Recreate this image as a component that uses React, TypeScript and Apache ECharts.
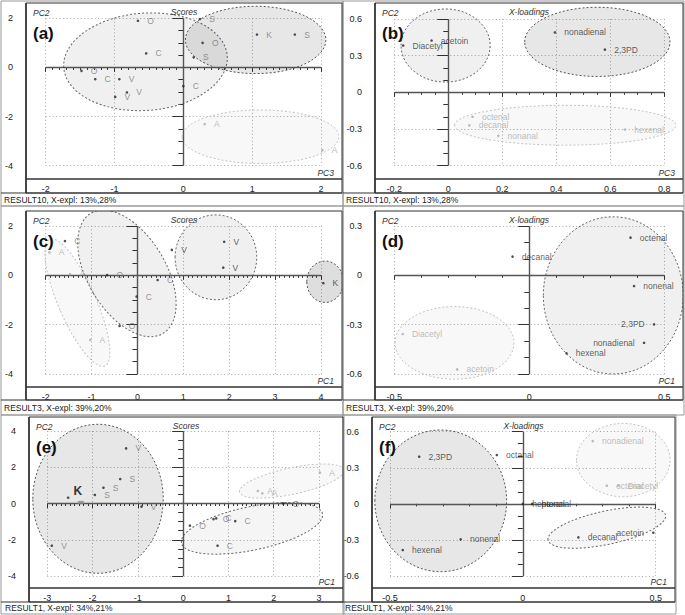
import React, { useEffect, useRef } from 'react';
import * as echarts from 'echarts';

// ---------------- DATA ----------------
// Panel (a): Scores, PC3 (x) vs PC2 (y)
const aMain = [[-0.66, 1.90, 'O'], [-0.54, 0.57, 'C'], [-1.48, -0.14, 'O'], [-1.28, -0.48, 'C'], [-0.93, -0.48, 'V'], [-0.99, -1.20, 'V'], [-0.82, -1.02, 'V'], [0.0, -0.76, 'C'], [0.24, 1.97, 'S'], [0.28, 1.0, 'O'], [0.15, 0.41, 'S'], [1.07, 1.34, 'K'], [1.62, 1.34, 'S']];
const aFaint = [[0.31, -2.31, 'A'], [2.02, -3.37, 'A']];
const aEll = [[-0.55, 0.23, 1.19, 1.98, 4], [1.05, 1.12, 1.02, 1.37, 0], [1.12, -2.82, 1.14, 1.09, 0]];
const aXAxis = [-2, 2, 1];
const aYAxis = [-4, 2, 2];
const aFooter = 'RESULT10, X-expl: 13%,28%';

// Panel (b): X-loadings, PC3 vs PC2
const bDark = [[-0.167, 0.383, 'Diacetyl'], [-0.062, 0.424, 'acetoin'], [0.395, 0.49, 'nonadienal'], [0.58, 0.35, '2,3PD']];
const bFaint = [[0.09, -0.2, 'octenal'], [0.078, -0.27, 'decanal'], [0.185, -0.356, 'nonanal'], [0.654, -0.304, 'hexenal']];
const bEll = [[-0.01, 0.383, 0.165, 0.299, 0], [0.552, 0.413, 0.269, 0.283, 0], [0.433, -0.269, 0.41, 0.163, 0]];
const bXAxis = [-0.2, 0.8, 0.2];
const bYAxis = [-0.6, 0.6, 0.3];
const bFooter = 'RESULT10, X-expl: 13%,28%';

// Panel (c): Scores, PC1 vs PC2
const cDark = [[0.75, 1.03, 'V'], [1.89, 1.36, 'V'], [1.87, 0.31, 'V'], [4.05, -0.32, 'K']];
const cGrey = [[-1.58, 1.39, 'C'], [-0.66, 0.01, 'O'], [0.44, -0.19, 'C'], [-0.02, -0.86, 'C'], [-0.39, -2.05, 'O']];
const cFaint = [[-1.92, 0.93, 'A'], [-1.47, 0.05, 'A'], [-1.03, -2.62, 'A']];
const cEll = [[-1.31, -1.11, 0.41, 2.8, 23.5], [-0.23, 0.08, 0.85, 2.84, 31], [1.71, 0.73, 0.89, 1.72, 0], [4.09, -0.26, 0.4, 0.84, 0]];
const cXAxis = [-2, 4, 1];
const cYAxis = [-4, 2, 2];
const cFooter = 'RESULT3, X-expl: 39%,20%';

// Panel (d): X-loadings, PC1 vs PC2
const dDark = [[0.375, 0.229, 'octenal'], [-0.062, 0.114, 'decanal'], [0.388, -0.065, 'nonenal'], [0.462, -0.298, '2,3PD'], [0.425, -0.41, 'nonadienal'], [0.138, -0.474, 'hexenal']];
const dFaint = [[-0.469, -0.357, 'Diacetyl'], [-0.267, -0.572, 'acetoin']];
const dEll = [[0.311, -0.122, 0.259, 0.478, 0], [-0.277, -0.411, 0.22, 0.221, 0]];
const dXAxis = [-0.5, 0.5, 0.5];
const dYAxis = [-0.6, 0.3, 0.3];
const dFooter = 'RESULT3, X-expl: 39%,20%';

// Panel (e): Scores, PC1 vs PC2
const eGreyL = [[-1.26, 3.04, 'V'], [-1.39, 1.35, 'S'], [-1.76, 0.87, 'S'], [-1.95, 0.47, 'S'], [-0.92, -0.17, 'V'], [-2.9, -2.33, 'V'], [-2.54, 0.32, '']];
const eK = [[-2.26, 0.06, 'K']];
const eGreyR = [[0.15, -1.22, 'O'], [0.67, -0.86, 'O'], [0.73, -0.82, 'C'], [1.15, -0.97, 'C'], [0.76, -2.33, 'C'], [2.21, 0.0, 'O']];
const eFaint = [[1.65, 0.69, 'A'], [1.75, 0.56, 'A'], [3.02, 1.7, 'A']];
const eEll = [[-1.88, 0.26, 1.44, 4.11, 0], [2.4, 1.24, 1.18, 0.73, 12], [1.52, -1.37, 1.59, 1.2, 11.7]];
const eXAxis = [-3, 3, 1];
const eYAxis = [-4, 4, 2];
const eFooter = 'RESULT1, X-expl: 34%,21%';

// Panel (f): X-loadings, PC1 vs PC2
const fDark = [[-0.39, 0.392, '2,3PD'], [-0.098, 0.406, 'octanal'], [0.0, 0.0, 'heptenal'], [0.035, 0.0, 'hexanal'], [-0.234, -0.295, 'nonenal'], [-0.452, -0.384, 'hexenal'], [0.209, -0.279, 'decanal'], [0.491, -0.24, 'acetoin']];
const fFaint = [[0.263, 0.522, 'nonadienal'], [0.316, 0.151, 'octenal'], [0.36, 0.151, 'Diacetyl']];
const fEll = [[-0.309, 0.025, 0.248, 0.589, 0], [0.378, 0.364, 0.176, 0.305, 0], [0.316, -0.198, 0.226, 0.139, 12]];
const fXAxis = [-0.5, 0.5, 0.5];
const fYAxis = [-0.6, 0.6, 0.3];
const fFooter = 'RESULT1, X-expl: 34%,21%';

// ---------------- LAYOUT / STYLE ----------------
const FONT = '"Liberation Sans", Arial, Helvetica, sans-serif';

const toneStyle: any = {
  dark: { dot: '#222', label: '#333' },
  grey: { dot: '#222', label: '#777' },
  faint: { dot: '#aaa', label: '#aaa' },
  k: { dot: '#888', label: '#000' },
};
const ellStyle: any = {
  dark: { fill: 'rgba(0,0,0,0.095)', stroke: '#555' },
  darker: { fill: 'rgba(0,0,0,0.13)', stroke: '#555' },
  mid: { fill: 'rgba(0,0,0,0.06)', stroke: '#666' },
  light: { fill: 'rgba(0,0,0,0.04)', stroke: '#666' },
  faint: { fill: 'rgba(0,0,0,0.028)', stroke: '#c4c4c4' },
};

const panels: any[] = [
  {
    tag: '(a)', title: 'Scores', xName: 'PC3', foot: aFooter, xr: aXAxis, yr: aYAxis, xMinor: 10, yMinor: 4,
    groups: [[aMain, 'grey'], [aFaint, 'faint']], ells: aEll, ellTones: ['mid', 'dark', 'faint'],
    grid: { left: 45.7, top: 18.3, width: 275.3, height: 147.4 },
    frame: { L: 26, R: 342, T: 3, B1: 179, B2: 193, oL: 1, oT: 1, oB: 206, footY: 200, footX: 4 },
  },
  {
    tag: '(b)', title: 'X-loadings', xName: 'PC3', foot: bFooter, xr: bXAxis, yr: bYAxis, xMinor: 4, yMinor: 3,
    groups: [[bDark, 'dark'], [bFaint, 'faint']], ells: bEll, ellTones: ['mid', 'dark', 'faint'],
    grid: { left: 394.3, top: 19, width: 270, height: 146.7 },
    frame: { L: 375, R: 683, T: 3, B1: 179, B2: 193, oL: 343, oT: 1, oB: 206, footY: 200, footX: 346 },
  },
  {
    tag: '(c)', title: 'Scores', xName: 'PC1', foot: cFooter, xr: cXAxis, yr: cYAxis, xMinor: 10, yMinor: 4,
    groups: [[cDark, 'dark'], [cGrey, 'grey'], [cFaint, 'faint']], ells: cEll, ellTones: ['faint', 'mid', 'mid', 'darker'],
    grid: { left: 45.7, top: 226, width: 275.3, height: 148 },
    frame: { L: 26, R: 342, T: 211, B1: 387, B2: 400, oL: 1, oT: 206, oB: 415, footY: 408, footX: 4 },
  },
  {
    tag: '(d)', title: 'X-loadings', xName: 'PC1', foot: dFooter, xr: dXAxis, yr: dYAxis, xMinor: 5, yMinor: 3,
    groups: [[dDark, 'dark'], [dFaint, 'faint']], ells: dEll, ellTones: ['mid', 'faint'],
    grid: { left: 394.3, top: 226, width: 270, height: 148 },
    frame: { L: 375, R: 683, T: 211, B1: 387, B2: 400, oL: 343, oT: 206, oB: 415, footY: 408, footX: 346 },
  },
  {
    tag: '(e)', title: 'Scores', xName: 'PC1', foot: eFooter, xr: eXAxis, yr: eYAxis, xMinor: 10, yMinor: 4,
    groups: [[eGreyL, 'grey'], [eGreyR, 'grey'], [eFaint, 'faint'], [eK, 'k']], ells: eEll, ellTones: ['dark', 'faint', 'light'],
    grid: { left: 47.3, top: 431, width: 271.7, height: 145 },
    frame: { L: 29, R: 343, T: 417, B1: 588, B2: 602, oL: 1, oT: 415, oB: 614, footY: 608, footX: 5 },
  },
  {
    tag: '(f)', title: 'X-loadings', xName: 'PC1', foot: fFooter, xr: fXAxis, yr: fYAxis, xMinor: 5, yMinor: 3,
    groups: [[fDark, 'dark'], [fFaint, 'faint']], ells: fEll, ellTones: ['dark', 'faint', 'light'],
    grid: { left: 390, top: 431.7, width: 265.7, height: 144.3 },
    frame: { L: 372, R: 675, T: 417, B1: 588, B2: 602, oL: 343, oT: 415, oB: 614, footY: 608, footX: 345 },
  },
];

// labels placed on the left of their point (panel index + name)
const leftLabels = new Set(['3:2,3PD', '3:nonadienal', '5:acetoin']);

function buildOption() {
  const grids: any[] = [];
  const xAxes: any[] = [];
  const yAxes: any[] = [];
  const series: any[] = [];
  const graphics: any[] = [];

  panels.forEach((p, i) => {
    const f = p.frame;
    const g = p.grid;
    grids.push({ left: g.left, top: g.top, width: g.width, height: g.height, containLabel: false });
    const tickColor = '#333';
    xAxes.push({
      type: 'value', gridIndex: i, min: p.xr[0], max: p.xr[1], interval: p.xr[2],
      position: 'bottom', offset: f.B1 - (g.top + g.height),
      axisLine: { show: false },
      axisTick: { show: true, length: 4.5, lineStyle: { color: tickColor } },
      minorTick: { show: true, splitNumber: p.xMinor, length: 2.5, lineStyle: { color: tickColor } },
      axisLabel: { fontSize: 9, color: '#222', margin: 5.5, fontFamily: FONT },
      splitLine: { show: true, lineStyle: { color: '#a8a8a8', type: [1, 2.5], width: 1 } },
    });
    yAxes.push({
      type: 'value', gridIndex: i, min: p.yr[0], max: p.yr[1], interval: p.yr[2],
      position: 'left', offset: g.left - f.L,
      axisLine: { show: false },
      axisTick: { show: true, length: 11, lineStyle: { color: tickColor } },
      minorTick: { show: true, splitNumber: p.yMinor, length: 5, lineStyle: { color: tickColor } },
      axisLabel: { fontSize: 9, color: '#222', margin: 13, fontFamily: FONT },
      splitLine: { show: true, lineStyle: { color: '#a8a8a8', type: [1, 2.5], width: 1 } },
    });

    const tones = p.ellTones;
    series.push({
      type: 'custom', xAxisIndex: i, yAxisIndex: i, z: 1, silent: true, clip: false,
      encode: { x: 0, y: 1 },
      data: p.ells,
      renderItem: (params: any, api: any) => {
        const c = api.coord([api.value(0), api.value(1)]);
        const s = api.size([api.value(2), api.value(3)]);
        const st = ellStyle[tones[params.dataIndex]];
        return {
          type: 'group',
          clipPath: { type: 'rect', shape: { x: f.L, y: f.T, width: f.R - f.L, height: f.B1 - f.T } },
          children: [
            {
              type: 'ellipse',
              x: c[0], y: c[1],
              rotation: (api.value(4) * Math.PI) / 180,
              shape: { cx: 0, cy: 0, rx: s[0], ry: s[1] },
              style: { fill: st.fill, stroke: st.stroke, lineWidth: 1, lineDash: [2, 2] },
            },
          ],
        };
      },
    });

    p.groups.forEach((grp: any, gi: number) => {
      const pts = grp[0];
      const tone = toneStyle[grp[1]];
      const isK = grp[1] === 'k';
      const s: any = {
        type: 'scatter', xAxisIndex: i, yAxisIndex: i, z: 5, silent: true, clip: false,
        symbol: isK ? 'rect' : 'circle',
        symbolSize: isK ? [6, 3] : 2.6,
        itemStyle: { color: tone.dot },
        label: isK
          ? { show: true, position: 'top', distance: 4, offset: [-3, 0], formatter: '{b}', fontSize: 12, fontWeight: 'bold', color: tone.label, fontFamily: FONT }
          : { show: true, position: 'right', distance: 8, formatter: '{b}', fontSize: 8.5, color: tone.label, fontFamily: FONT },
        data: pts.map((d: any) => {
          const item: any = { value: [d[0], d[1]], name: d[2] };
          if (leftLabels.has(i + ':' + d[2])) item.label = { position: 'left', distance: 8 };
          return item;
        }),
      };
      if (gi === 0) {
        s.markLine = {
          silent: true, symbol: ['none', 'none'], z: 3,
          label: { show: false },
          lineStyle: { color: '#555', type: 'solid', width: 1.4 },
          data: [{ xAxis: 0 }, { yAxis: 0 }],
        };
      }
      series.push(s);
    });

    // frames
    graphics.push({ type: 'rect', silent: true, z: 10, shape: { x: f.oL, y: f.oT, width: f.R + 1 - f.oL, height: f.oB - f.oT }, style: { fill: 'none', stroke: '#999', lineWidth: 1 } });
    graphics.push({ type: 'rect', silent: true, z: 11, shape: { x: f.L, y: f.T, width: f.R - f.L, height: f.B1 - f.T }, style: { fill: 'none', stroke: '#333', lineWidth: 1 } });
    graphics.push({ type: 'rect', silent: true, z: 11, shape: { x: f.L, y: f.B1, width: f.R - f.L, height: f.B2 - f.B1 }, style: { fill: 'none', stroke: '#333', lineWidth: 1 } });
    graphics.push({ type: 'line', silent: true, z: 11, shape: { x1: f.oL, y1: f.B2, x2: f.R, y2: f.B2 }, style: { stroke: '#333', lineWidth: 1 } });
    graphics.push({ type: 'line', silent: true, z: 11, shape: { x1: f.L, y1: f.T, x2: f.L, y2: f.B2 }, style: { stroke: '#333', lineWidth: 1.6 } });
    // texts
    graphics.push({ type: 'text', silent: true, z: 12, x: f.L + 7, y: f.T + 10, style: { text: 'PC2', font: `italic 8.5px ${FONT}`, fill: '#333', align: 'left', verticalAlign: 'middle' } });
    graphics.push({ type: 'text', silent: true, z: 12, x: (f.L + f.R) / 2, y: f.T + 9, style: { text: p.title, font: `italic 8.5px ${FONT}`, fill: '#333', align: 'center', verticalAlign: 'middle' } });
    graphics.push({ type: 'text', silent: true, z: 12, x: f.R - 8, y: f.B1 - 6.5, style: { text: p.xName, font: `italic 8.5px ${FONT}`, fill: '#333', align: 'right', verticalAlign: 'middle' } });
    graphics.push({ type: 'text', silent: true, z: 12, x: f.L + 7, y: f.T + 30, style: { text: p.tag, font: `bold 17px ${FONT}`, fill: '#111', align: 'left', verticalAlign: 'middle' } });
    graphics.push({ type: 'text', silent: true, z: 12, x: f.footX, y: f.footY, style: { text: p.foot, font: `8.5px ${FONT}`, fill: '#222', align: 'left', verticalAlign: 'middle' } });
  });

  return {
    animation: false,
    backgroundColor: '#ffffff',
    textStyle: { fontFamily: FONT },
    grid: grids,
    xAxis: xAxes,
    yAxis: yAxes,
    series,
    graphic: { elements: graphics },
  };
}

export default function App() {
  const ref = useRef<HTMLDivElement | null>(null);
  useEffect(() => {
    if (!ref.current) return;
    const chart = echarts.init(ref.current, undefined, { renderer: 'svg' });
    chart.setOption(buildOption() as any);
    return () => chart.dispose();
  }, []);
  return <div ref={ref} style={{ position: 'absolute', left: 0, top: 0, width: 685, height: 615 }} />;
}
